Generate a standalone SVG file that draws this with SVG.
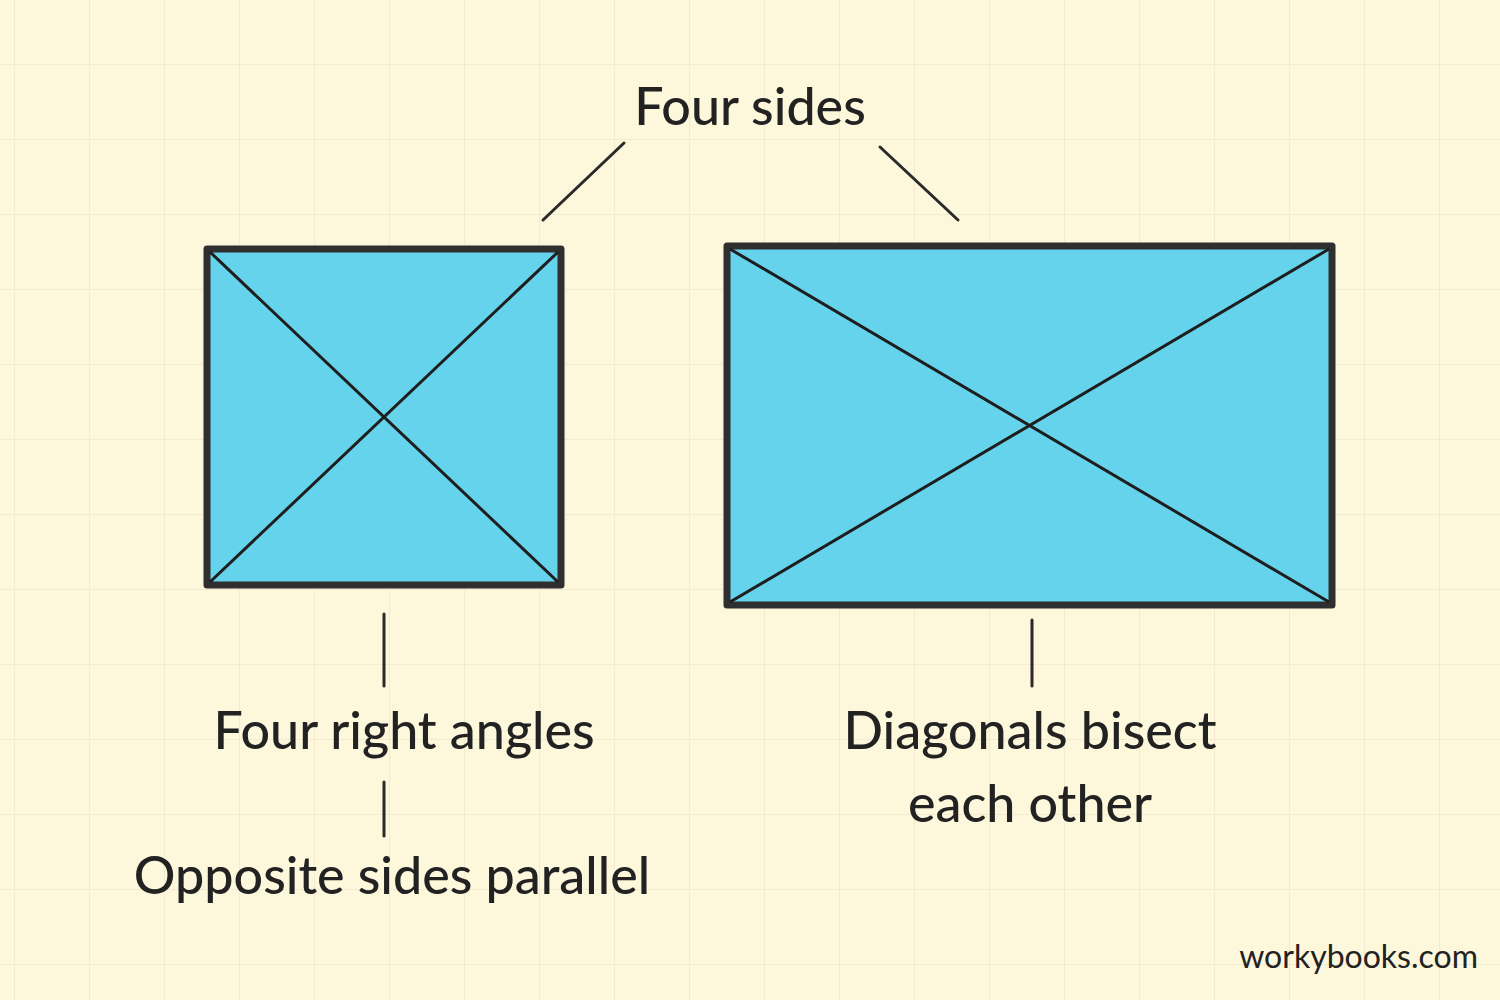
<svg xmlns="http://www.w3.org/2000/svg" width="1500" height="1000" viewBox="0 0 1500 1000">
<defs>
<pattern id="grid" width="75" height="75" patternUnits="userSpaceOnUse" x="15" y="-10">
<path d="M75 0V75M0 75H75" fill="none" stroke="#f3ead0" stroke-width="2"/>
</pattern>
<style>
.shape{fill:#66d3ec;stroke:#2f2f2f;stroke-width:7;stroke-linejoin:round}
.diag{stroke:#1e1e1e;stroke-width:3}
.conn{stroke:#2a2a2a;stroke-width:3;stroke-linecap:round}
.lbl{font-family:"Lato","Noto Sans",sans-serif;font-size:52px;fill:#222;text-anchor:middle;font-weight:500}
</style>
</defs>
<rect width="1500" height="1000" fill="#fdf7dc"/>
<rect width="1500" height="1000" fill="url(#grid)"/>
<g id="square">
<rect class="shape" x="207" y="249" width="354" height="336"/>
<line class="diag" x1="210" y1="252" x2="558" y2="582"/>
<line class="diag" x1="558" y1="252" x2="210" y2="582"/>
</g>
<g id="rectangle">
<rect class="shape" x="727" y="246" width="605" height="359"/>
<line class="diag" x1="730" y1="249" x2="1329" y2="602"/>
<line class="diag" x1="1329" y1="249" x2="730" y2="602"/>
</g>
<g id="connectors">
<line class="conn" x1="543" y1="220" x2="624" y2="143"/>
<line class="conn" x1="880" y1="147" x2="958" y2="220"/>
<line class="conn" x1="384" y1="614" x2="384" y2="686"/>
<line class="conn" x1="384" y1="782" x2="384" y2="836"/>
<line class="conn" x1="1032" y1="620" x2="1032" y2="686"/>
</g>
<g id="label-four-sides"><text class="lbl" x="750" y="125">Four sides</text></g>
<g id="label-right-angles"><text class="lbl" x="404" y="749">Four right angles</text></g>
<g id="label-parallel"><text class="lbl" x="392" y="894">Opposite sides parallel</text></g>
<g id="label-diagonals"><text class="lbl" x="1030" y="749">Diagonals bisect</text><text class="lbl" x="1030" y="822">each other</text></g>
<text x="1478" y="968" font-family="Lato,sans-serif" font-size="32" fill="#222" text-anchor="end">workybooks.com</text>
</svg>
